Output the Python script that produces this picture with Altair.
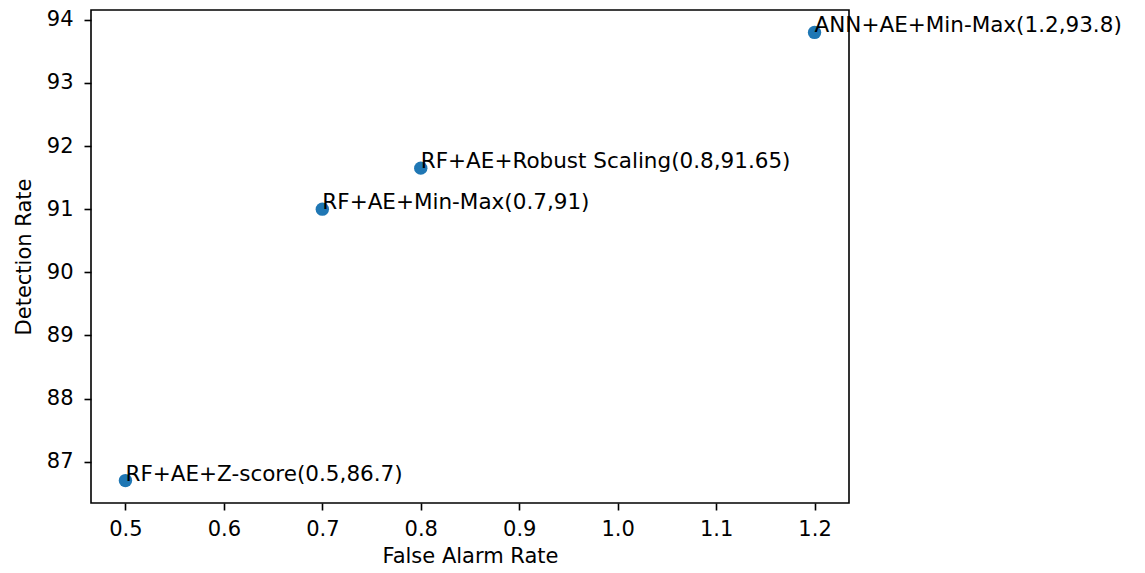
import altair as alt
import pandas as pd

false_alarm = [0.5, 0.7, 0.8, 1.2]
detection = [86.7, 91, 91.65, 93.8]
methods = ["RF+AE+Z-score", "RF+AE+Min-Max", "RF+AE+Robust Scaling", "ANN+AE+Min-Max"]
x_ticks = [0.5, 0.6, 0.7, 0.8, 0.9, 1.0, 1.1, 1.2]
y_ticks = [87, 88, 89, 90, 91, 92, 93, 94]

df = pd.DataFrame({
    "far": false_alarm,
    "dr": detection,
    "label": [f"{m}({x:g},{y:g})" for m, x, y in zip(methods, false_alarm, detection)],
})

FONT = "DejaVu Sans"
FS = 21

x = alt.X("far:Q", title="False Alarm Rate",
          scale=alt.Scale(domain=[0.465, 1.235], nice=False, zero=False),
          axis=alt.Axis(values=x_ticks, format=".1f", grid=False, domain=False,
                        tickSize=7, tickWidth=1.6, tickColor="#000000",
                        labelPadding=8, titlePadding=6))
y = alt.Y("dr:Q", title="Detection Rate",
          scale=alt.Scale(domain=[86.345, 94.155], nice=False, zero=False),
          axis=alt.Axis(values=y_ticks, format="d", grid=False, domain=False,
                        tickSize=7, tickWidth=1.6, tickColor="#000000",
                        labelPadding=11, titlePadding=12))

points = alt.Chart(df).mark_circle(size=180, color="#1f77b4", opacity=1).encode(x=x, y=y)
labels = alt.Chart(df).mark_text(align="left", baseline="alphabetic", font=FONT,
                                 fontSize=21.5, color="#000000", clip=False).encode(
    x="far:Q", y="dr:Q", text="label:N")

chart = alt.layer(points, labels).properties(
    width=758, height=493, padding={"left": 5, "top": 0, "right": 5, "bottom": 5}
).configure_view(stroke="#000000", strokeWidth=1.6).configure_axis(
    labelFont=FONT, titleFont=FONT, labelFontSize=FS, titleFontSize=FS,
    labelColor="#000000", titleColor="#000000", titleFontWeight="normal"
)

chart.save("out.html", embed_options={"renderer": "svg", "actions": False})
